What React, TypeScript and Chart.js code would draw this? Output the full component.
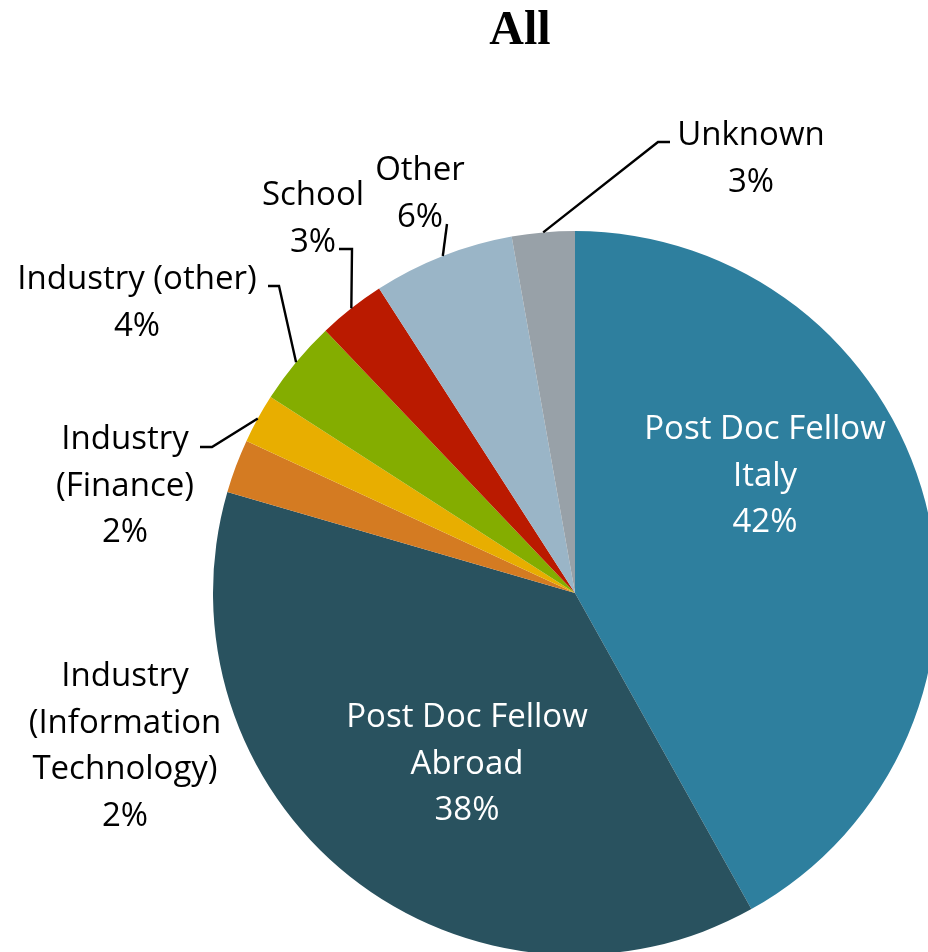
import React, { useEffect, useRef } from "react";
import { Chart, registerables } from "chart.js";

Chart.register(...registerables);

const TITLE = "All";
const categories = [
  "Post Doc Fellow Italy",
  "Post Doc Fellow Abroad",
  "Industry (Information Technology)",
  "Industry (Finance)",
  "Industry (other)",
  "School",
  "Other",
  "Unknown",
];
const labelLines = [
  ["Post Doc Fellow", "Italy"],
  ["Post Doc Fellow", "Abroad"],
  ["Industry", "(Information", "Technology)"],
  ["Industry", "(Finance)"],
  ["Industry (other)"],
  ["School"],
  ["Other"],
  ["Unknown"],
];
const shares = [41.9, 37.6, 2.4, 2.2, 3.8, 3.0, 6.3, 2.8];
const colors = [
  "#2E7F9E",
  "#29525F",
  "#D47B22",
  "#E8AE00",
  "#84AD00",
  "#BA1A00",
  "#9AB5C7",
  "#98A1A8",
];

// label placement (layout only): center x, first baseline, text colour, leader elbow/end
type LabelPos = { cx: number; y: number; color: string; elbow?: [number, number]; end?: [number, number] };
const labelLayout: LabelPos[] = [
  { cx: 765, y: 439, color: "#ffffff" },
  { cx: 467, y: 727, color: "#ffffff" },
  { cx: 125, y: 686, color: "#000000" },
  { cx: 125, y: 449, color: "#000000", elbow: [212, 447], end: [200, 447] },
  { cx: 137, y: 289, color: "#000000", elbow: [279, 286], end: [268, 286] },
  { cx: 313, y: 205, color: "#000000", elbow: [352, 249], end: [339, 249] },
  { cx: 420, y: 180, color: "#000000", end: [447, 224] },
  { cx: 751, y: 145, color: "#000000", elbow: [658, 142], end: [670, 142] },
];

const LABEL_FONT = '33px "Open Sans"';
const LINE_H = 46.5;

const labelPlugin = {
  id: "pieLabels",
  afterDatasetsDraw(chart: any) {
    const ctx = chart.ctx as CanvasRenderingContext2D;
    const meta = chart.getDatasetMeta(0);
    ctx.save();
    // title
    ctx.font = 'bold 48px "Liberation Serif"';
    ctx.fillStyle = "#000";
    ctx.textAlign = "center";
    ctx.textBaseline = "alphabetic";
    ctx.fillText(TITLE, 520, 44);

    meta.data.forEach((arc: any, i: number) => {
      const p = arc.getProps(["x", "y", "startAngle", "endAngle", "outerRadius"], true);
      const lay = labelLayout[i];
      if (lay.end) {
        const mid = (p.startAngle + p.endAngle) / 2;
        const ax = p.x + Math.cos(mid) * p.outerRadius;
        const ay = p.y + Math.sin(mid) * p.outerRadius;
        ctx.beginPath();
        ctx.strokeStyle = "#000";
        ctx.lineWidth = 2.4;
        ctx.lineJoin = "miter";
        ctx.moveTo(ax, ay);
        if (lay.elbow) ctx.lineTo(lay.elbow[0], lay.elbow[1]);
        ctx.lineTo(lay.end[0], lay.end[1]);
        ctx.stroke();
      }
      const lines = [...labelLines[i], Math.round(shares[i]) + "%"];
      ctx.font = LABEL_FONT;
      ctx.fillStyle = lay.color;
      ctx.textAlign = "center";
      lines.forEach((t, k) => ctx.fillText(t, lay.cx, lay.y + k * LINE_H));
    });
    ctx.restore();
  },
};

export default function App() {
  const ref = useRef<HTMLCanvasElement | null>(null);
  useEffect(() => {
    document.body.style.margin = "0";
    const chart = new Chart(ref.current as HTMLCanvasElement, {
      type: "pie",
      data: {
        labels: categories,
        datasets: [
          {
            data: shares,
            backgroundColor: colors,
            borderWidth: 0,
            hoverOffset: 0,
          },
        ],
      },
      options: {
        responsive: false,
        animation: false,
        layout: { padding: { left: 213, top: 231, right: 63, bottom: 45 } },
        plugins: {
          legend: { display: false },
          tooltip: { enabled: false },
          title: { display: false },
        },
      },
      plugins: [labelPlugin],
    });
    return () => chart.destroy();
  }, []);
  return (
    <div style={{ width: 928, height: 952, overflow: "hidden", background: "#fff" }}>
      <canvas ref={ref} width={1000} height={1000} style={{ width: 1000, height: 1000, display: "block" }} />
    </div>
  );
}
